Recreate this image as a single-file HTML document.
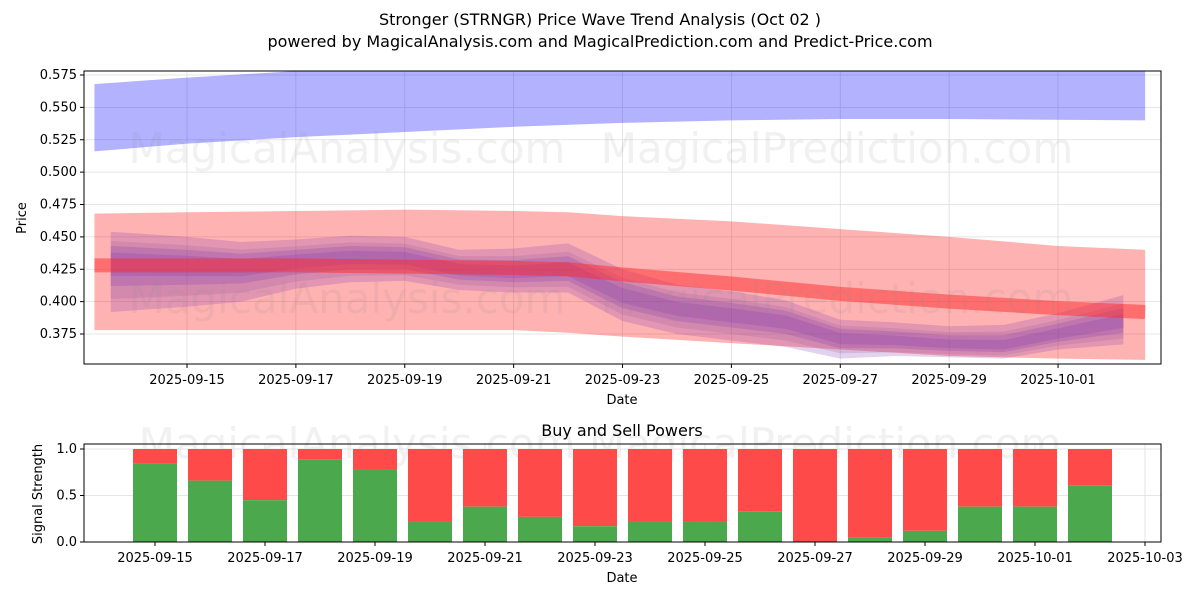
<!DOCTYPE html>
<html><head><meta charset="utf-8"><style>
body{margin:0;background:#fff;font-family:"Liberation Sans","DejaVu Sans",sans-serif}
svg text{font-family:"DejaVu Sans","Liberation Sans",sans-serif}
</style></head><body>
<svg id="c" width="1200" height="600" xmlns="http://www.w3.org/2000/svg"></svg>
<script>
const priceTicks=[0.375,0.4,0.425,0.45,0.475,0.5,0.525,0.55,0.575];
const dateTicks=["2025-09-15","2025-09-17","2025-09-19","2025-09-21","2025-09-23","2025-09-25","2025-09-27","2025-09-29","2025-10-01"];
const blueDays=[-1.7,0,2,4,6,8,10,12,14,17.6];
const blueTop=[0.568,0.573,0.578,0.580,0.582,0.583,0.584,0.585,0.585,0.585];
const blueBot=[0.516,0.522,0.527,0.531,0.535,0.538,0.540,0.541,0.541,0.540];
const redDays=[-1.7,0,2,4,6,7,8,10,12,14,16,17.6];
const redTop=[0.468,0.469,0.470,0.471,0.470,0.469,0.466,0.462,0.456,0.450,0.443,0.440];
const redBot=[0.378,0.378,0.378,0.378,0.378,0.376,0.373,0.368,0.363,0.358,0.356,0.355];
const redMid=[0.428,0.428,0.428,0.427,0.426,0.425,0.421,0.414,0.406,0.400,0.395,0.392];
const waveDays=[-1.4,0,1,2,3,4,5,6,7,8,9,10,11,12,13,14,15,16,17.2];
const waveMid=[0.432,0.430,0.428,0.432,0.435,0.434,0.425,0.423,0.425,0.405,0.395,0.390,0.385,0.372,0.370,0.367,0.366,0.375,0.385];
const waveUp=[0.022,0.02,0.018,0.016,0.016,0.016,0.015,0.018,0.02,0.02,0.018,0.018,0.016,0.014,0.014,0.014,0.016,0.016,0.02];
const waveDown=[0.040,0.034,0.028,0.022,0.02,0.018,0.016,0.016,0.018,0.02,0.02,0.02,0.02,0.016,0.012,0.01,0.01,0.012,0.018];
const waveScales=[1,0.75,0.5,0.3];
const buyDates=["09-15","09-16","09-17","09-18","09-19","09-20","09-21","09-22","09-23","09-24","09-25","09-26","09-27","09-28","09-29","09-30","10-01","10-02"];
const buyPower=[0.84,0.66,0.45,0.89,0.78,0.22,0.38,0.27,0.17,0.22,0.22,0.33,0.0,0.05,0.12,0.38,0.38,0.61];
const sigTicks=[0,0.5,1];
const botDateTicks=["2025-09-15","2025-09-17","2025-09-19","2025-09-21","2025-09-23","2025-09-25","2025-09-27","2025-09-29","2025-10-01","2025-10-03"];

const svg=document.getElementById('c');const NS='http://www.w3.org/2000/svg';
function el(t,a,txt){const e=document.createElementNS(NS,t);for(const k in a)e.setAttribute(k,a[k]);if(txt!==undefined)e.textContent=txt;svg.appendChild(e);return e;}
const X=d=>187+d*54.44, Y=v=>334-(v-0.375)/0.025*32.375;
const X2=d=>155+d*55, Y2=v=>542-v*93;

let t=el('text',{x:600,y:25,'text-anchor':'middle','font-size':16},'Stronger (STRNGR) Price Wave Trend Analysis (Oct 02 )');

t=el('text',{x:600,y:47,'text-anchor':'middle','font-size':16},'powered by MagicalAnalysis.com and MagicalPrediction.com and Predict-Price.com');


el('defs',{}).innerHTML='<clipPath id="cp"><rect x="84" y="71" width="1077" height="293"/></clipPath><clipPath id="cp2"><rect x="0" y="0" width="1200" height="600"/></clipPath>';
const g=document.createElementNS(NS,'g');g.setAttribute('clip-path','url(#cp)');svg.appendChild(g);

function gel(t,a){const e=document.createElementNS(NS,t);for(const k in a)e.setAttribute(k,a[k]);g.appendChild(e);return e;}
priceTicks.forEach(v=>gel('line',{x1:84,x2:1161,y1:Y(v),y2:Y(v),stroke:'#ddd','stroke-width':0.8}));
dateTicks.forEach((d,i)=>gel('line',{x1:X(i*2),x2:X(i*2),y1:71,y2:364,stroke:'#ddd','stroke-width':0.8}));
function band(days,top,bot,fill,op,name){let p=days.map((d,i)=>X(d)+','+Y(top[i])).join(' ')+' '+days.slice().reverse().map((d,i)=>X(d)+','+Y(bot[bot.length-1-i])).join(' ');
 const e=gel('polygon',{points:p,fill:fill,'fill-opacity':op});}
band(blueDays,blueTop,blueBot,'#0000ff',0.3,'blue-band');
band(redDays,redTop,redBot,'#ff0000',0.3,'red-band');
waveScales.forEach((s,k)=>{
 const top=waveMid.map((v,i)=>v+waveUp[i]*s*(k%2?0.9:1)), bot=waveMid.map((v,i)=>v-waveDown[i]*s);
 band(waveDays,top,bot,k==1?'#9a5a9a':'#7a30b0',0.22,'wave-band');
});
let rl=gel('polyline',{points:redDays.map((d,i)=>X(d)+','+Y(redMid[i])).join(' '),fill:'none',stroke:'#ff2a2a','stroke-opacity':0.5,'stroke-width':14});

[['MagicalAnalysis.com',347,163],['MagicalPrediction.com',837,163],['MagicalAnalysis.com',347,313],['MagicalPrediction.com',837,313],['MagicalAnalysis.com    MagicalPrediction.com',600,458]].forEach(w=>{const e=el('text',{x:w[1],y:w[2],'text-anchor':'middle','font-size':42,fill:'#888','fill-opacity':0.12},w[0]);});
el('rect',{x:84,y:71,width:1077,height:293,fill:'none',stroke:'#000','stroke-width':1});
priceTicks.forEach(v=>{el('line',{x1:80,x2:84,y1:Y(v),y2:Y(v),stroke:'#000'});const e=el('text',{x:77,y:Y(v)+4,'text-anchor':'end','font-size':13},v.toFixed(3));});
dateTicks.forEach((d,i)=>{el('line',{x1:X(i*2),x2:X(i*2),y1:364,y2:368,stroke:'#000'});const e=el('text',{x:X(i*2),y:384,'text-anchor':'middle','font-size':13},d);});
t=el('text',{x:622,y:404,'text-anchor':'middle','font-size':13},'Date');
t=el('text',{x:26,y:218,'text-anchor':'middle','font-size':13,transform:'rotate(-90 26 218)'},'Price');

t=el('text',{x:622,y:436,'text-anchor':'middle','font-size':16},'Buy and Sell Powers');
sigTicks.forEach(v=>el('line',{x1:84,x2:1161,y1:Y2(v),y2:Y2(v),stroke:'#ddd','stroke-width':0.8}));
botDateTicks.forEach((d,i)=>{if(X2(i*2)<1161)el('line',{x1:X2(i*2),x2:X2(i*2),y1:444,y2:542,stroke:'#ddd','stroke-width':0.8});});
buyPower.forEach((v,i)=>{const x=X2(i)-22;
 const r=el('rect',{x:x,y:Y2(1),width:44,height:Y2(v)-Y2(1),fill:'#ff4a4a'});
 const b=el('rect',{x:x,y:Y2(v),width:44,height:Y2(0)-Y2(v),fill:'#4ca84c'});});
el('rect',{x:84,y:444,width:1077,height:98,fill:'none',stroke:'#000'});
sigTicks.forEach(v=>{el('line',{x1:80,x2:84,y1:Y2(v),y2:Y2(v),stroke:'#000'});const e=el('text',{x:77,y:Y2(v)+4,'text-anchor':'end','font-size':13},v.toFixed(1));});
botDateTicks.forEach((d,i)=>{el('line',{x1:X2(i*2),x2:X2(i*2),y1:542,y2:546,stroke:'#000'});const e=el('text',{x:X2(i*2),y:562,'text-anchor':'middle','font-size':13},d);});
t=el('text',{x:622,y:582,'text-anchor':'middle','font-size':13},'Date');
t=el('text',{x:42,y:494,'text-anchor':'middle','font-size':13,transform:'rotate(-90 42 494)'},'Signal Strength');
</script>
</body></html>
